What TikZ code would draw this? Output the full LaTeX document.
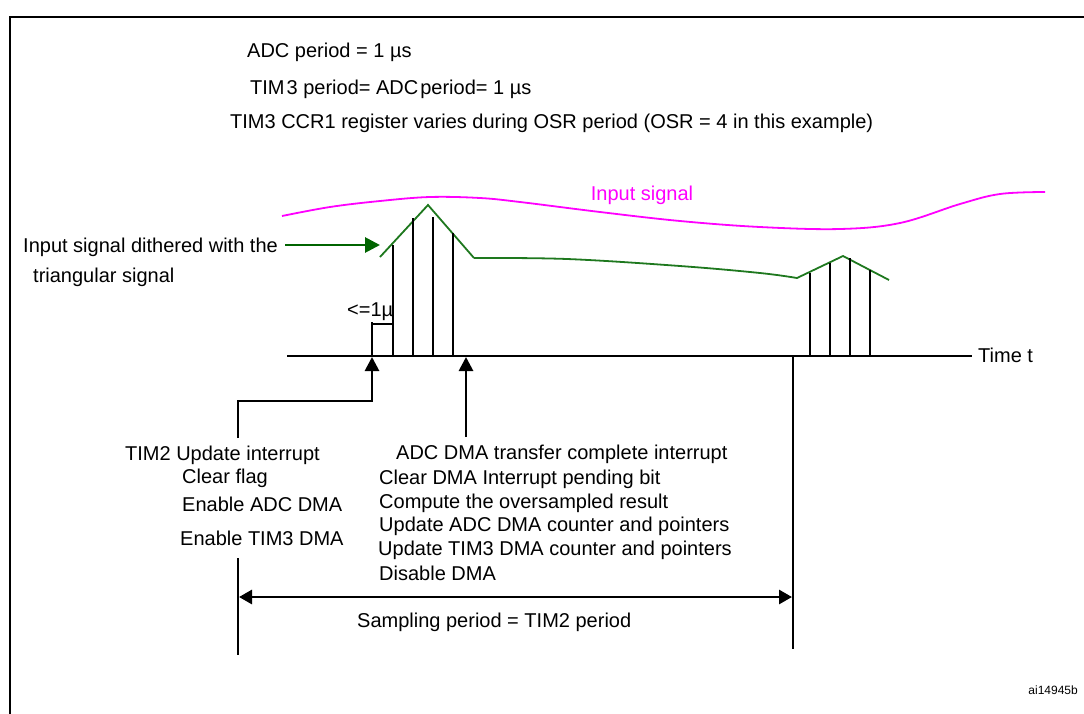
\documentclass[tikz,border=0pt]{standalone}
\usepackage{fontspec}
\setmainfont{Liberation Sans}
\usetikzlibrary{arrows.meta}
\definecolor{mag}{RGB}{255,0,255}
\definecolor{trig}{RGB}{30,120,30}
\definecolor{darr}{RGB}{0,100,0}
\begin{document}
\begin{tikzpicture}[x=1pt,y=-1pt,
  txt/.style={font=\fontsize{20}{24}\selectfont, inner sep=0pt, anchor=west, text height=14.3pt, text depth=0pt},
  thick line/.style={line width=2.8pt},
  samp/.style={line width=2.8pt},
  upar/.style={line width=2.8pt, -{Triangle[width=14pt,length=14pt]}},
  trigline/.style={trig, line width=1.8pt, line join=miter},
]
\useasboundingbox (0,0) rectangle (1084,713);
\clip (0,0) rectangle (1084,713);
% frame
\draw[line width=2.8pt] (10,17) rectangle (1110,740);
% header texts
\node[txt] (l1) at (247,50) {ADC period = 1 µs};
\node[txt] (l2) at (250,87) {TIM\kern2pt 3 period= ADC\kern2pt period= 1 µs};
\node[txt] (l3) at (230,121) {TIM3 CCR1 register varies during OSR period (OSR = 4 in this example)};
% input signal
\draw[mag, line width=1.8pt] plot[smooth, tension=0.6] coordinates {(282,216) (330,207) (380,201) (430,197) (480,198) (520,202) (600,212) (680,221) (760,227) (840,229) (900,223) (960,204) (1000,194) (1045,192)};
\node[txt, mag, anchor=center] (insig) at (642,193) {Input signal};
% dithered signal
\draw[trigline] (380,257) -- (428,205) -- (474,258)
  plot[smooth, tension=0.6] coordinates {(474,258) (567,259) (680,266) (760,273) (797,278)}
  -- (843,256) -- (889,280);
% left label + arrow
\node[txt] (dith1) at (23,245) {Input signal dithered with the};
\node[txt] (dith2) at (33,275) {triangular signal};
\coordinate (dtip) at (380,245);
\draw[darr, line width=2.8pt, -{Triangle[width=15pt,length=15pt]}] ([xshift=7pt]dith1.east) -- (dtip);
% time axis
\node[txt] (time) at (978,355) {Time t};
\coordinate (ax0) at (287,356);
\draw[thick line] (ax0) -- ([xshift=-6pt]time.west |- ax0);
% samples group 1
\draw[samp] (393,356) -- (393,245);
\draw[samp] (413,356) -- (413,218);
\draw[samp] (433,356) -- (433,217);
\draw[samp] (453,356) -- (453,233);
% samples group 2
\draw[samp] (810,356) -- (810,273);
\draw[samp] (830,356) -- (830,263);
\draw[samp] (850,356) -- (850,258);
\draw[samp] (870,356) -- (870,270);
% <=1u bracket
\draw[line width=2.2pt] (372,356) -- (372,322);
\draw[line width=2.2pt] (372,324) -- (393,324);
\node[txt] (lt) at (347,309) {<=1µ};
% bottom texts
\node[txt] (tim2) at (125,453) {TIM2 Update interrupt};
\node[txt] (cf) at (182,476) {Clear flag};
\node[txt] (ead) at (182,504) {Enable ADC DMA};
\node[txt] (etd) at (180,538) {Enable TIM3 DMA};
\node[txt] (adc) at (396,452) {ADC DMA transfer complete interrupt};
\node[txt] (c1) at (379,477) {Clear DMA Interrupt pending bit};
\node[txt] (c2) at (379,501) {Compute the oversampled result};
\node[txt] (c3) at (379,524) {Update ADC DMA counter and pointers};
\node[txt] (c4) at (378,548) {Update TIM3 DMA counter and pointers};
\node[txt] (c5) at (379,573) {Disable DMA};
% arrows to axis
\coordinate (t1) at (372,357);
\coordinate (t2) at (466,357);
\coordinate (s1) at (238,438);
\coordinate (s2) at (466,437);
\coordinate (k1) at (372,401);
\draw[upar] (s1) |- (k1) -- (t1);
\draw[upar] (s2) -- (t2);
% sampling period
\coordinate (b1) at (238,558);
\coordinate (b2) at (238,655);
\coordinate (r1) at (793,356);
\coordinate (r2) at (793,649);
\draw[thick line] (b1) -- (b2);
\draw[thick line] (r1) -- (r2);
\coordinate (p1) at (239,597);
\coordinate (p2) at (792,597);
\draw[line width=2.8pt, {Triangle[width=14pt,length=13pt]}-{Triangle[width=14pt,length=13pt]}] (p1) -- (p2);
\node[txt] (samp) at (357,620) {Sampling period = TIM2 period};
\node[font=\fontsize{12}{14}\selectfont, inner sep=0pt, anchor=east] (ai) at (1078,690) {ai14945b};
\end{tikzpicture}
\end{document}
